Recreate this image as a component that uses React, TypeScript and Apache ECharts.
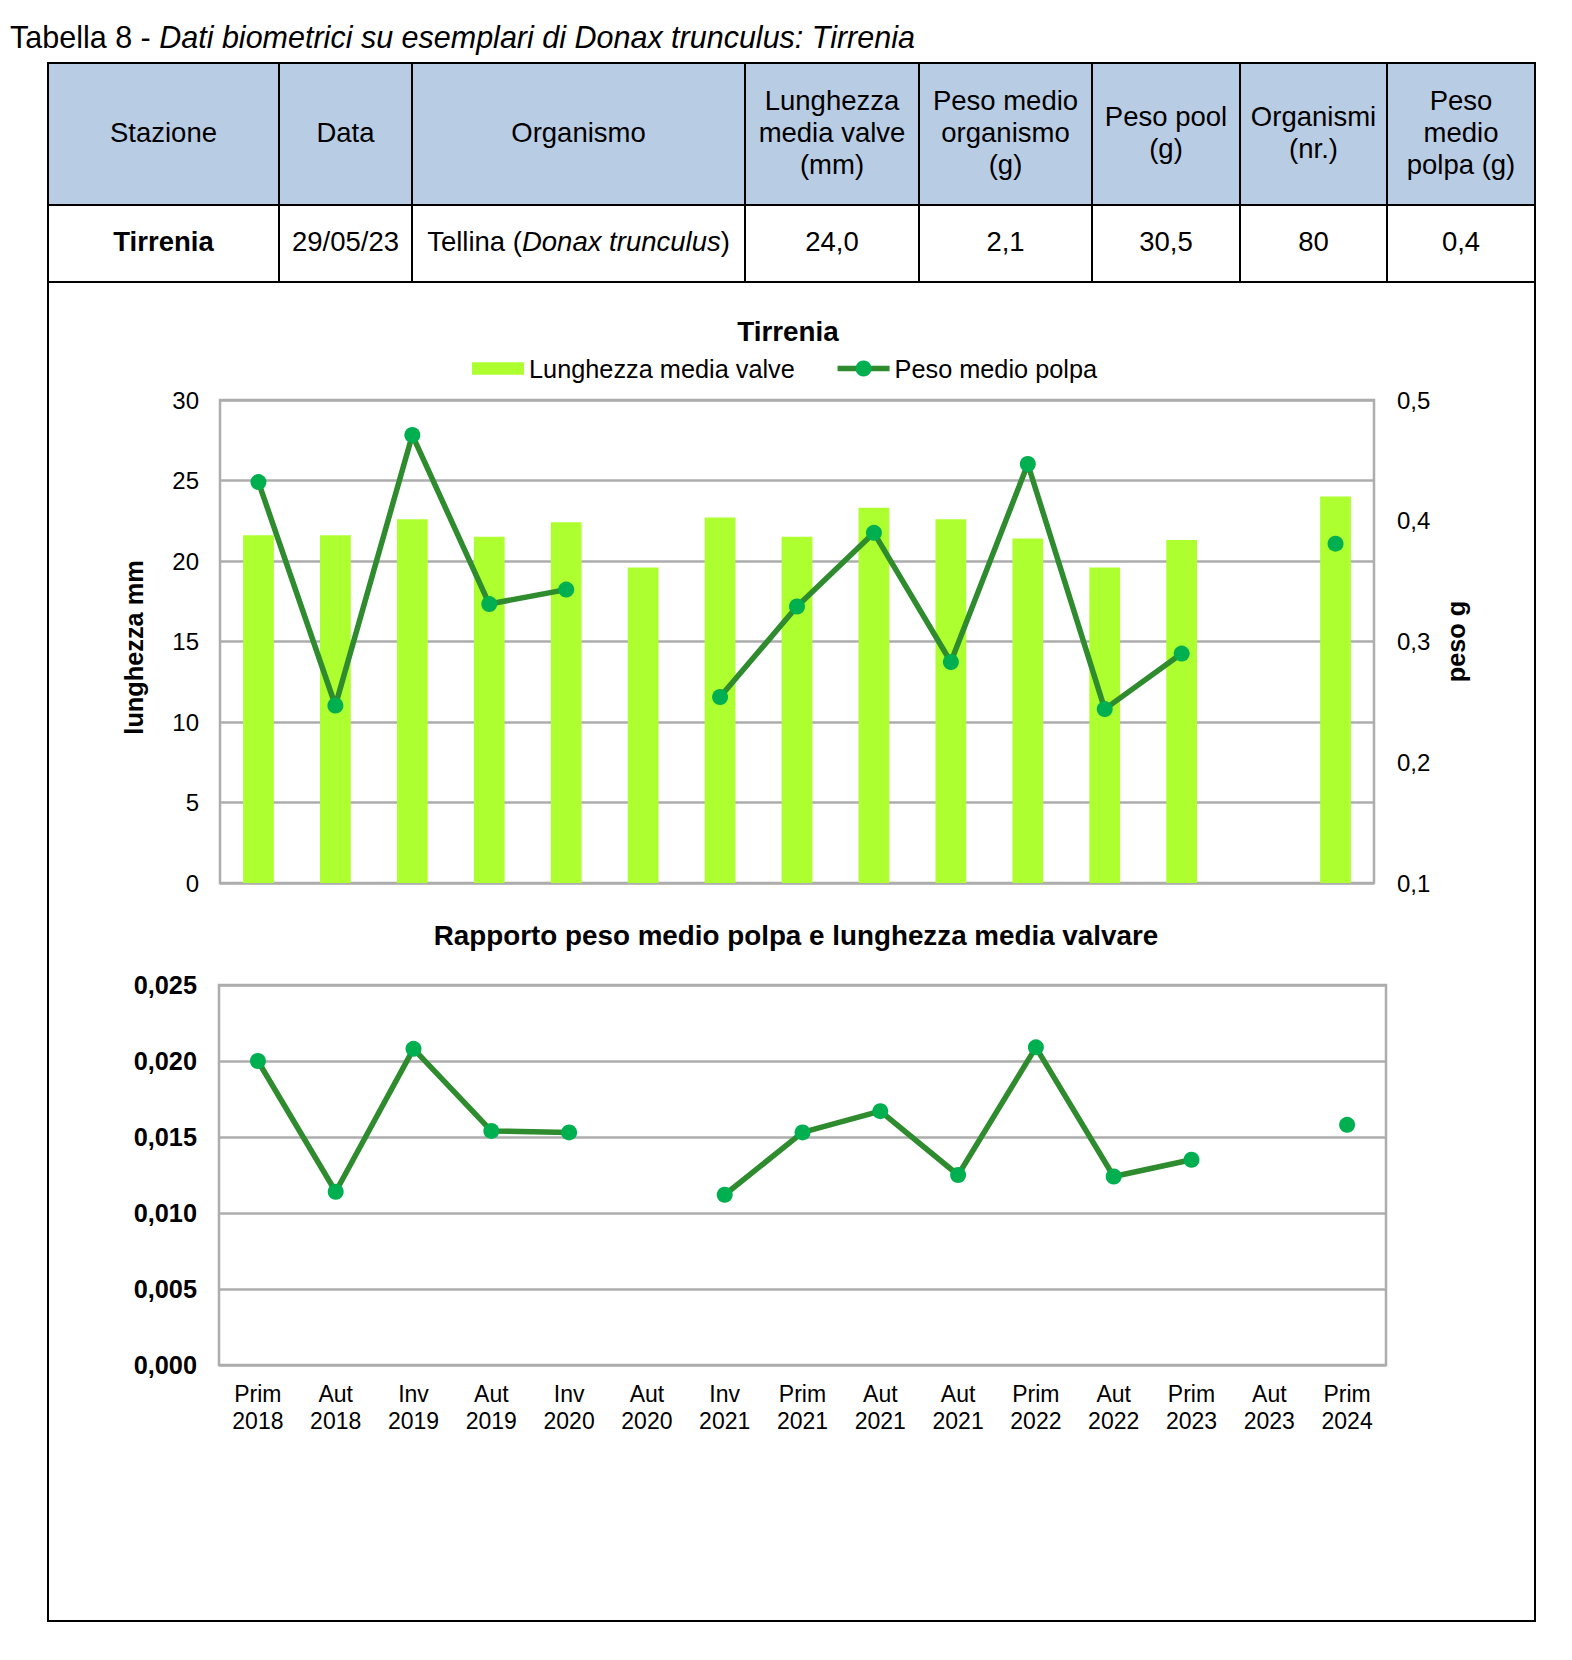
import React, { useEffect, useRef } from "react";
import * as echarts from "echarts";

// ---------- DATA ----------
const categories = [
  "Prim 2018", "Aut 2018", "Inv 2019", "Aut 2019", "Inv 2020", "Aut 2020", "Inv 2021",
  "Prim 2021", "Aut 2021", "Aut 2021", "Prim 2022", "Aut 2022", "Prim 2023", "Aut 2023", "Prim 2024",
];
const lunghezzaMediaValve = [21.6, 21.6, 22.6, 21.5, 22.4, 19.6, 22.7, 21.5, 23.3, 22.6, 21.4, 19.6, 21.3, null, 24.0];
const pesoMedioPolpa = [0.432, 0.247, 0.471, 0.331, 0.343, null, 0.254, 0.329, 0.39, 0.283, 0.447, 0.244, 0.29, null, 0.381];
const rapporto = [0.02, 0.0114, 0.0208, 0.0154, 0.0153, null, 0.0112, 0.0153, 0.0167, 0.0125, 0.0209, 0.0124, 0.0135, null, 0.0158];

const tableHeaders = [
  "Stazione", "Data", "Organismo", "Lunghezza\nmedia valve\n(mm)", "Peso medio\norganismo\n(g)",
  "Peso pool\n(g)", "Organismi\n(nr.)", "Peso\nmedio\npolpa (g)",
];
const tableRow = ["Tirrenia", "29/05/23", "Tellina (Donax trunculus)", "24,0", "2,1", "30,5", "80", "0,4"];

const leftTicks = { min: 0, max: 30, interval: 5 };
const rightTicks = { min: 0.1, max: 0.5, interval: 0.1 };
const ratioTicks = { min: 0, max: 0.025, interval: 0.005 };

// ---------- STYLE ----------
const FONT = "'Liberation Sans', Arial, sans-serif";
const BAR = "#ADFF2F";
const LINE = "#2E8B2E";
const MARK = "#00B050";
const GRID = "#ADADAD";
const TABLE_FS = 27.5;
const colEdges = [48, 279, 412, 745, 919, 1092, 1240, 1387, 1535];

function buildGraphic() {
  const g: any[] = [];
  // title
  g.push({
    type: "text", x: 10, y: 37,
    style: {
      text: "{n|Tabella 8 - }{i|Dati biometrici su esemplari di Donax trunculus: Tirrenia}",
      rich: {
        n: { fontStyle: "normal", fontSize: 30.5, fontFamily: FONT, fill: "#000" },
        i: { fontStyle: "italic", fontSize: 30.5, fontFamily: FONT, fill: "#000" },
      },
      fontSize: 30.5, fontFamily: FONT, fill: "#000", align: "left", verticalAlign: "middle",
    },
  });
  // header bg
  g.push({ type: "rect", shape: { x: colEdges[0], y: 63, width: colEdges[8] - colEdges[0], height: 142 }, style: { fill: "#B8CCE4" } });
  // outer frame
  g.push({ type: "rect", shape: { x: 48, y: 63, width: 1487, height: 1558 }, style: { fill: "none", stroke: "#000", lineWidth: 2 }, z: 10 });
  [205, 282].forEach((y) =>
    g.push({ type: "line", shape: { x1: 48, y1: y, x2: 1535, y2: y }, style: { stroke: "#000", lineWidth: 2 }, z: 10 })
  );
  colEdges.slice(1, 8).forEach((x) =>
    g.push({ type: "line", shape: { x1: x, y1: 63, x2: x, y2: 282 }, style: { stroke: "#000", lineWidth: 2 }, z: 10 })
  );
  tableHeaders.forEach((h, i) => {
    const cx = (colEdges[i] + colEdges[i + 1]) / 2;
    g.push({
      type: "text", x: cx, y: 132,
      style: { text: h, fontSize: TABLE_FS, lineHeight: 32, fontFamily: FONT, fill: "#000", align: "center", verticalAlign: "middle" },
    });
  });
  tableRow.forEach((v, i) => {
    const cx = (colEdges[i] + colEdges[i + 1]) / 2;
    const style: any = { fontSize: TABLE_FS, fontFamily: FONT, fill: "#000", align: "center", verticalAlign: "middle" };
    if (i === 2) {
      const m = v.match(/^(.*\()(.*)(\))$/);
      style.text = m ? `{n|${m[1]}}{i|${m[2]}}{n|${m[3]}}` : v;
      style.rich = {
        n: { fontSize: TABLE_FS, fontFamily: FONT, fill: "#000" },
        i: { fontSize: TABLE_FS, fontFamily: FONT, fill: "#000", fontStyle: "italic" },
      };
    } else {
      style.text = v;
      if (i === 0) style.fontWeight = "bold";
    }
    g.push({ type: "text", x: cx, y: 241, style });
  });
  // chart titles
  g.push({
    type: "text", x: 788, y: 331,
    style: { text: "Tirrenia", fontSize: 27.8, fontWeight: "bold", fontFamily: FONT, fill: "#000", align: "center", verticalAlign: "middle" },
  });
  g.push({
    type: "text", x: 796, y: 935,
    style: { text: "Rapporto peso medio polpa e lunghezza media valvare", fontSize: 27.8, fontWeight: "bold", fontFamily: FONT, fill: "#000", align: "center", verticalAlign: "middle" },
  });
  return g;
}

export default function App() {
  const ref = useRef<HTMLDivElement>(null);
  useEffect(() => {
    if (!ref.current) return;
    const chart = echarts.init(ref.current, null, { renderer: "svg" });
    const splitLine = { show: true, lineStyle: { color: GRID, width: 2.5 } };
    const nameStyle = { fontSize: 25.3, fontWeight: "bold", color: "#000", fontFamily: FONT };
    chart.setOption({
      animation: false,
      backgroundColor: "#fff",
      textStyle: { fontFamily: FONT },
      graphic: buildGraphic(),
      legend: {
        left: 467, top: 351, itemWidth: 52, itemHeight: 20, itemGap: 40,
        lineStyle: { width: 5.5 },
        textStyle: { fontSize: 25.3, color: "#000", fontFamily: FONT },
        data: [
          { name: "Lunghezza media valve", icon: "path://M0,0H50V12H0Z" },
          { name: "Peso medio polpa" },
        ],
      },
      grid: [
        { left: 220, top: 400, width: 1154, height: 483, show: true, borderColor: GRID, borderWidth: 2.5 },
        { left: 219, top: 985, width: 1167, height: 380, show: true, borderColor: GRID, borderWidth: 2.5 },
      ],
      xAxis: [
        {
          type: "category", gridIndex: 0, data: categories,
          axisLine: { show: false }, axisTick: { show: false }, axisLabel: { show: false },
        },
        {
          type: "category", gridIndex: 1, data: categories,
          axisLine: { show: false }, axisTick: { show: false },
          axisLabel: {
            interval: 0, margin: 15, fontSize: 23, lineHeight: 27, color: "#000", fontFamily: FONT,
            formatter: (v: string) => v.replace(" ", "\n"),
          },
        },
      ],
      yAxis: [
        {
          type: "value", gridIndex: 0, ...leftTicks,
          name: "lunghezza mm", nameLocation: "middle", nameGap: 74, nameRotate: 90,
          nameTextStyle: { ...nameStyle, padding: [0, 12, 0, 0] },
          axisLine: { show: false }, axisTick: { show: false },
          axisLabel: { margin: 21, fontSize: 24, color: "#000", fontFamily: FONT },
          splitLine,
        },
        {
          type: "value", gridIndex: 0, position: "right", ...rightTicks,
          name: "peso g", nameLocation: "middle", nameGap: 69, nameRotate: 90,
          nameTextStyle: nameStyle,
          axisLine: { show: false }, axisTick: { show: false },
          axisLabel: { margin: 23, fontSize: 24, color: "#000", fontFamily: FONT, formatter: (v: number) => v.toFixed(1).replace(".", ",") },
          splitLine: { show: false },
        },
        {
          type: "value", gridIndex: 1, ...ratioTicks,
          axisLine: { show: false }, axisTick: { show: false },
          axisLabel: { margin: 22, fontSize: 25.3, fontWeight: "bold", color: "#000", fontFamily: FONT, formatter: (v: number) => v.toFixed(3).replace(".", ",") },
          splitLine,
        },
      ],
      series: [
        {
          name: "Lunghezza media valve", type: "bar", xAxisIndex: 0, yAxisIndex: 0,
          data: lunghezzaMediaValve, barWidth: "40%", itemStyle: { color: BAR },
        },
        {
          name: "Peso medio polpa", type: "line", xAxisIndex: 0, yAxisIndex: 1,
          data: pesoMedioPolpa, connectNulls: false, symbol: "circle", symbolSize: 16,
          lineStyle: { color: LINE, width: 5.5 }, itemStyle: { color: MARK }, z: 5,
        },
        {
          name: "Rapporto", type: "line", xAxisIndex: 1, yAxisIndex: 2,
          data: rapporto, connectNulls: false, symbol: "circle", symbolSize: 16,
          lineStyle: { color: LINE, width: 5.5 }, itemStyle: { color: MARK }, z: 5,
        },
      ],
    });
    return () => chart.dispose();
  }, []);
  return <div ref={ref} style={{ position: "absolute", left: 0, top: 0, width: 1572, height: 1660 }} />;
}
